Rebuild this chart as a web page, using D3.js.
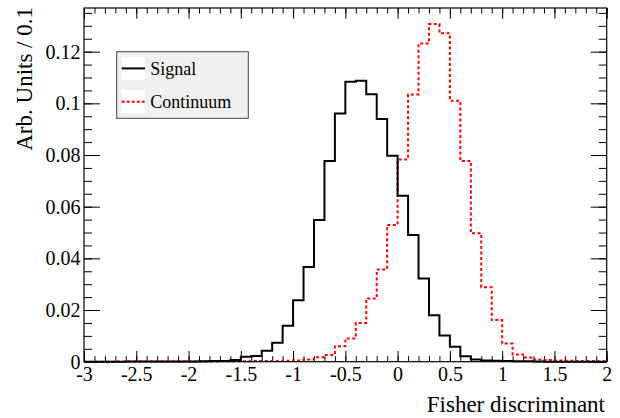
<!DOCTYPE html>
<html>
<head>
<meta charset="utf-8">
<script src="https://cdn.jsdelivr.net/npm/d3@7"></script>
<style>
  body { margin: 0; background: #fff; }
</style>
</head>
<body>
<svg id="chart" width="620" height="418"></svg>
<script>
// histogram binning: 50 bins of 0.1 from -3 to 2
var binLow = -3, binWidth = 0.1
var seriesNames = ["Signal", "Continuum"]

// bin contents (low edge -3.0, -2.9, ... 1.9)
var signalVals = [
    0, 0, 0, 0, 0.00005, 0.00005, 0.0001, 0.0001, 0.0001, 0.0001,
    0.0001, 0.0002, 0.0003, 0.0003, 0.0007, 0.0019, 0.0022, 0.0042, 0.0073, 0.0139,
    0.0238, 0.0367, 0.0548, 0.0777, 0.0961, 0.1084, 0.1087, 0.1035, 0.0939, 0.0797,
    0.0642, 0.0490, 0.0322, 0.0180, 0.0101, 0.0058, 0.0021, 0.0009, 0.0005, 0.0004,
    0.0003, 0.0002, 0.0002, 0.0001, 0, 0, 0, 0, 0, 0
]
var continuumVals = [
    0, 0, 0, 0.00005, 0.00005, 0.00005, 0.00005, 0.0001, 0.0001, 0.0001,
    0.0001, 0.0001, 0.0001, 0.0002, 0.0002, 0.0002, 0.0003, 0.0003, 0.0003, 0.0004,
    0.0005, 0.0009, 0.0017, 0.0026, 0.0060, 0.0090, 0.0150, 0.0245, 0.0357, 0.0529,
    0.0783, 0.1034, 0.1232, 0.1307, 0.1271, 0.1010, 0.0777, 0.0497, 0.0288, 0.0161,
    0.0070, 0.0028, 0.0016, 0.0009, 0.0007, 0.0005, 0.0004, 0.0003, 0.0003, 0.0002
]

var xMajorTicks = [-3, -2.5, -2, -1.5, -1, -0.5, 0, 0.5, 1, 1.5, 2]
var xTickLabels = ["-3", "-2.5", "-2", "-1.5", "-1", "-0.5", "0", "0.5", "1", "1.5", "2"]
var yMajorTicks = [0, 0.02, 0.04, 0.06, 0.08, 0.1, 0.12]
var yTickLabels = ["0", "0.02", "0.04", "0.06", "0.08", "0.1", "0.12"]

var serif = "Liberation Serif, Times New Roman, DejaVu Serif, serif"

var margin = { top: 8, left: 84, right: 13.3, bottom: 56.3 }
var width = 620 - margin.left - margin.right
var height = 418 - margin.top - margin.bottom

var svg = d3.select("#chart")
var g = svg.append("g")
    .attr("transform", "translate(" + margin.left + "," + margin.top + ")")

var x = d3.scaleLinear().domain([-3, 2]).range([0, width])
var y = d3.scaleLinear().domain([0, 0.1369]).range([height, 0])

var xMinor = d3.range(-30, 21).map(d => d / 10)
var yMinor = d3.range(0, 28).map(d => d * 0.005)

// bottom axis: major ticks with labels, minor ticks without
g.append("g")
    .attr("transform", "translate(0," + height + ")")
    .call(d3.axisBottom(x).tickValues(xMinor).tickSize(-5.5).tickFormat(""))
g.append("g")
    .attr("class", "xlab")
    .attr("transform", "translate(0," + height + ")")
    .call(d3.axisBottom(x).tickValues(xMajorTicks).tickSize(-10.7).tickPadding(5)
        .tickFormat((d, i) => xTickLabels[i]))
// top axis ticks
g.append("g")
    .call(d3.axisTop(x).tickValues(xMinor).tickSize(-5.5).tickFormat(""))
g.append("g")
    .call(d3.axisTop(x).tickValues(xMajorTicks).tickSize(-10.7).tickFormat(""))

// left axis
g.append("g")
    .call(d3.axisLeft(y).tickValues(yMinor).tickSize(-8).tickFormat(""))
g.append("g")
    .attr("class", "ylab")
    .call(d3.axisLeft(y).tickValues(yMajorTicks).tickSize(-16).tickPadding(3.5)
        .tickFormat((d, i) => yTickLabels[i]))
// right axis ticks
g.append("g")
    .attr("transform", "translate(" + width + ",0)")
    .call(d3.axisRight(y).tickValues(yMinor).tickSize(-8).tickFormat(""))
g.append("g")
    .attr("transform", "translate(" + width + ",0)")
    .call(d3.axisRight(y).tickValues(yMajorTicks).tickSize(-16).tickFormat(""))

g.selectAll(".domain").remove()
g.selectAll("g").attr("font-family", serif).attr("font-size", 20)
g.selectAll(".tick line").attr("stroke", "#000").attr("stroke-width", 1)
g.selectAll(".xlab text, .ylab text")
    .attr("fill", "#000")
    .attr("font-family", serif)
    .attr("font-size", 20)

// histogram outlines
function stepPath(vals) {
    let pts = [[x(binLow), y(0)]]
    vals.forEach(function (v, i) {
        let lo = binLow + i * binWidth
        pts.push([x(lo), y(v)])
        pts.push([x(lo + binWidth), y(v)])
    })
    pts.push([x(binLow + vals.length * binWidth), y(0)])
    return d3.line()(pts)
}

g.append("path")
    .attr("d", stepPath(continuumVals))
    .attr("fill", "none")
    .attr("stroke", "#ff0000")
    .attr("stroke-width", 2)
    .attr("stroke-dasharray", "3,2.5")

g.append("path")
    .attr("d", stepPath(signalVals))
    .attr("fill", "none")
    .attr("stroke", "#000")
    .attr("stroke-width", 2)

// frame
g.append("rect")
    .attr("width", width)
    .attr("height", height)
    .attr("fill", "none")
    .attr("stroke", "#000")
    .attr("stroke-width", 1.2)

// axis titles
svg.append("text")
    .attr("x", 605)
    .attr("y", 411.5)
    .attr("text-anchor", "end")
    .attr("font-family", serif)
    .attr("font-size", 23)
    .text("Fisher discriminant")

svg.append("text")
    .attr("transform", "translate(32,7) rotate(-90)")
    .attr("text-anchor", "end")
    .attr("font-family", serif)
    .attr("font-size", 23)
    .text("Arb. Units / 0.1")

// legend
var legend = svg.append("g").attr("transform", "translate(116.7,51.7)")
legend.append("rect")
    .attr("width", 131.6)
    .attr("height", 66.6)
    .attr("fill", "#f0f0f0")
    .attr("stroke", "#444")
    .attr("stroke-width", 1)

var colors = ["#000", "#ff0000"]
var dashes = [null, "3,2"]
var items = legend.selectAll(".item")
    .data(seriesNames)
    .join("g")
    .attr("class", "item")
    .attr("transform", (d, i) => "translate(5," + (5 + i * 33.3) + ")")

items.append("rect")
    .attr("width", 23.3)
    .attr("height", 23.3)
    .attr("fill", "#fff")

items.append("line")
    .attr("x1", 0).attr("x2", 23.3)
    .attr("y1", 11.7).attr("y2", 11.7)
    .attr("stroke", (d, i) => colors[i])
    .attr("stroke-width", 2)
    .attr("stroke-dasharray", (d, i) => dashes[i])

items.append("text")
    .attr("x", 28.5)
    .attr("y", 11.7)
    .attr("dy", "0.35em")
    .attr("font-family", serif)
    .attr("font-size", 18)
    .text(d => d)
</script>
</body>
</html>
